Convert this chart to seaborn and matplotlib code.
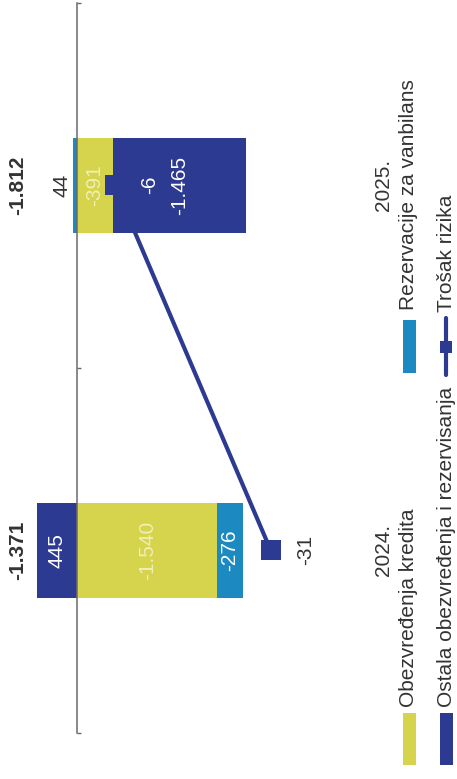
import matplotlib
matplotlib.use("Agg")
import matplotlib.pyplot as plt
import matplotlib.transforms as mtransforms
from matplotlib.patches import Rectangle
from matplotlib.lines import Line2D
import numpy as np
import pandas as pd
import seaborn as sns

# ---- data (RSD mn) ----
years = ["2024.", "2025."]
obezvredjenja_kredita = [-1540, -391]
ostala_obezvredjenja = [445, -1465]
rezervacije_vanbilans = [-276, 44]
trosak_rizika = [-31, -6]
totals = [-1371, -1812]
total_labels = ["-1.371", "-1.812"]
kredita_labels = ["-1.540", "-391"]
ostala_labels = ["445", "-1.465"]
rezervacije_labels = ["-276", "44"]
trosak_labels = ["-31", "-6"]

legend_names = ["Obezvređenja kredita", "Rezervacije za vanbilans",
                "Ostala obezvređenja i rezervisanja", "Trošak rizika"]

C_YELLOW = "#D6D34C"
C_NAVY = "#2C3A92"
C_TEAL = "#1C8AC0"
C_TEXT = "#333333"
C_FAINT = "#F1EFB6"

sns.set_theme(style="white")
plt.rcParams["font.family"] = ["Liberation Sans", "DejaVu Sans"]
FS = 15

W, H = 457, 779
fig = plt.figure(figsize=(W / 100, H / 100), dpi=100)

def fx(px):
    return px / W

def fy(py):
    return 1 - py / H

# main axes: value axis horizontal (negative to the right), categories vertical
ax = fig.add_axes([fx(0), fy(733), fx(300), (733 - 2.5) / H])
pos = np.arange(len(years))
bar_h = 0.26

series = [
    (obezvredjenja_kredita, C_YELLOW, kredita_labels, C_FAINT),
    (ostala_obezvredjenja, C_NAVY, ostala_labels, "white"),
    (rezervacije_vanbilans, C_TEAL, rezervacije_labels, "white"),
]

pos_base = np.zeros(len(years))
neg_base = np.zeros(len(years))
for vals, col, labs, tcol in series:
    vals = np.asarray(vals, dtype=float)
    left = np.where(vals >= 0, pos_base, neg_base)
    ax.barh(pos, vals, left=left, height=bar_h, color=col, linewidth=0, zorder=1)
    for i, (v, l, lab) in enumerate(zip(vals, left, labs)):
        if abs(v) < 100:
            # small segment: label sits just outside its end
            ax.annotate(lab, xy=(l + v, pos[i]), xytext=(-11, 0),
                        textcoords="offset pixels", rotation=90,
                        ha="center", va="center", fontsize=FS, color=C_TEXT)
        else:
            ax.text(l + v / 2, pos[i], lab, rotation=90, ha="center",
                    va="center", fontsize=FS, color=tcol, zorder=3)
    pos_base = np.where(vals >= 0, pos_base + vals, pos_base)
    neg_base = np.where(vals < 0, neg_base + vals, neg_base)

# totals at the outer edge
for i, lab in enumerate(total_labels):
    ax.text(657, pos[i], lab, rotation=90, ha="center", va="center",
            fontsize=FS, fontweight="bold", color=C_TEXT, clip_on=False)

ax.set_xlim(849.5, -2447)
ax.set_ylim(-0.5, 1.5)
for s in ["top", "right", "bottom"]:
    ax.spines[s].set_visible(False)
ax.spines["left"].set_position(("data", 0))
ax.spines["left"].set_color("#6a6a6a")
ax.spines["left"].set_linewidth(1.1)
ax.set_xticks([])
ax.set_yticks([-0.5, 0.5, 1.5])
ax.set_yticklabels([])
ax.tick_params(axis="y", direction="in", length=3, width=1, color="#6a6a6a", left=True)
ax.set_facecolor("none")

# cost of risk on its own value scale
ax2 = ax.twiny()
df_line = pd.DataFrame({"trosak": trosak_rizika, "pos": pos})
sns.lineplot(data=df_line, x="trosak", y="pos", orient="y", sort=False,
             color=C_NAVY, linewidth=3, marker="s", markersize=14,
             markeredgewidth=0, ax=ax2, zorder=4)
ax2.set_xlim(12.39, -35.69)
ax2.set_ylim(-0.5, 1.5)
ax2.set_xlabel("")
ax2.set_ylabel("")
ax2.set_xticks([])
for s in ax2.spines.values():
    s.set_visible(False)
ax2.patch.set_visible(False)
for i, lab in enumerate(trosak_labels):
    col = "white" if i == 1 else C_TEXT
    ax2.annotate(lab, xy=(trosak_rizika[i], pos[i]), xytext=(35, 0),
                 textcoords="offset pixels", rotation=90, ha="center",
                 va="center", fontsize=FS, color=col)

# category labels
tr = mtransforms.blended_transform_factory(fig.transFigure, ax.transData)
for i, y in enumerate(years):
    fig.text(fx(384), pos[i], y, transform=tr, rotation=90, ha="center",
             va="center", fontsize=FS, color=C_TEXT)

# legend, drawn rotated
def patch(xc, y0, y1, col):
    fig.patches.append(Rectangle((fx(xc - 6.5), fy(y1)), fx(13), (y1 - y0) / H,
                                 transform=fig.transFigure, color=col, lw=0))

def label(xc, ystart, txt):
    fig.text(fx(xc), fy(ystart), txt, rotation=90, ha="center", va="bottom",
             fontsize=FS, color=C_TEXT)

patch(409, 713, 765, C_YELLOW)
label(409, 707, legend_names[0])
patch(409, 320, 373, C_TEAL)
label(409, 310, legend_names[1])
patch(446, 713, 765, C_NAVY)
label(446, 707, legend_names[2])
fig.lines.append(Line2D([fx(446), fx(446)], [fy(375), fy(318)], transform=fig.transFigure,
                        color=C_NAVY, lw=3, marker=None))
fig.lines.append(Line2D([fx(446)], [fy(347)], transform=fig.transFigure,
                        color=C_NAVY, marker="s", markersize=9, markeredgewidth=0, lw=0))
label(446, 312, legend_names[3])

fig.savefig("out.png", dpi=100)
